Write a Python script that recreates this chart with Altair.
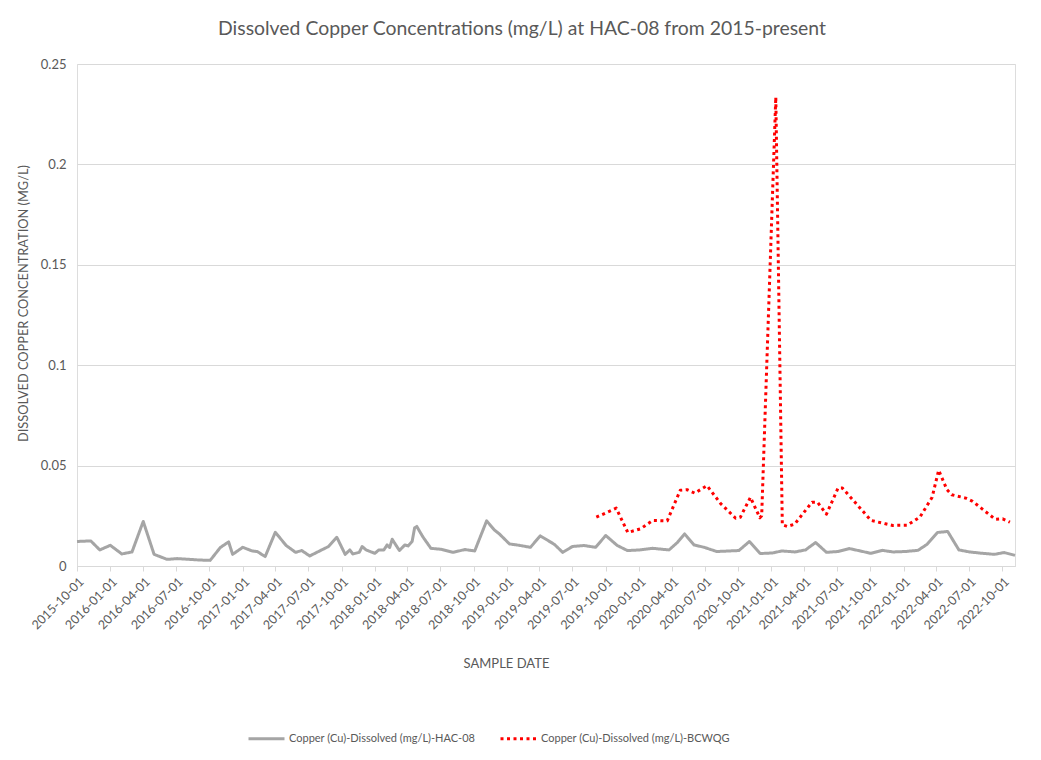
import altair as alt
import pandas as pd
from datetime import datetime, timezone

GRAY_NAME = "Copper (Cu)-Dissolved (mg/L)-HAC-08"
RED_NAME = "Copper (Cu)-Dissolved (mg/L)-BCWQG"

gray_dates = [
    "2015-10-01", "2015-11-08", "2015-12-03", "2016-01-01", "2016-02-02", "2016-03-01",
    "2016-04-01", "2016-05-01", "2016-06-06", "2016-07-04", "2016-09-01", "2016-10-03",
    "2016-10-31", "2016-11-23", "2016-12-04", "2017-01-01", "2017-01-27", "2017-02-10",
    "2017-03-04", "2017-04-01", "2017-05-01", "2017-05-27", "2017-06-13", "2017-07-05",
    "2017-08-26", "2017-09-18", "2017-10-11", "2017-10-24", "2017-11-01", "2017-11-19",
    "2017-11-27", "2017-12-08", "2018-01-01", "2018-01-12", "2018-01-26", "2018-02-04",
    "2018-02-11", "2018-02-18", "2018-03-10", "2018-03-25", "2018-04-03", "2018-04-14",
    "2018-04-21", "2018-04-27", "2018-05-13", "2018-06-05", "2018-07-04", "2018-08-05",
    "2018-09-07", "2018-10-04", "2018-11-06", "2018-11-27", "2018-12-11", "2019-01-08",
    "2019-02-04", "2019-03-07", "2019-04-03", "2019-05-12", "2019-06-04", "2019-07-01",
    "2019-08-02", "2019-09-03", "2019-10-01", "2019-11-02", "2019-11-30", "2020-01-03",
    "2020-02-08", "2020-03-24", "2020-04-16", "2020-05-06", "2020-06-01", "2020-06-29",
    "2020-08-03", "2020-10-03", "2020-11-01", "2020-12-01", "2021-01-04", "2021-01-30",
    "2021-03-07", "2021-04-05", "2021-05-03", "2021-06-02", "2021-07-03", "2021-08-04",
    "2021-10-03", "2021-11-03", "2021-12-03", "2022-01-05", "2022-02-10", "2022-03-07",
    "2022-04-05", "2022-05-03", "2022-06-03", "2022-07-02", "2022-08-08", "2022-09-09",
    "2022-10-06", "2022-11-05",
]
gray_values = [
    0.0122, 0.0125, 0.0080, 0.0103, 0.0060, 0.0070,
    0.0222, 0.0058, 0.0033, 0.0037, 0.0030, 0.0028,
    0.0092, 0.0120, 0.0058, 0.0093, 0.0075, 0.0072,
    0.0047, 0.0168, 0.0102, 0.0068, 0.0077, 0.0050,
    0.0097, 0.0143, 0.0058, 0.0080, 0.0060, 0.0068,
    0.0097, 0.0080, 0.0063, 0.0080, 0.0080, 0.0105,
    0.0092, 0.0133, 0.0077, 0.0105, 0.0100, 0.0122,
    0.0190, 0.0197, 0.0147, 0.0088, 0.0083, 0.0068,
    0.0082, 0.0075, 0.0225, 0.0180, 0.0160, 0.0110,
    0.0103, 0.0093, 0.0150, 0.0108, 0.0068, 0.0097,
    0.0102, 0.0093, 0.0152, 0.0102, 0.0077, 0.0080,
    0.0088, 0.0080, 0.0117, 0.0160, 0.0105, 0.0093,
    0.0072, 0.0077, 0.0122, 0.0062, 0.0065, 0.0075,
    0.0070, 0.0080, 0.0117, 0.0068, 0.0072, 0.0087,
    0.0063, 0.0078, 0.0070, 0.0072, 0.0078, 0.0108,
    0.0167, 0.0172, 0.0080, 0.0070, 0.0063, 0.0058,
    0.0067, 0.0053,
]

red_dates = [
    "2019-09-05", "2019-10-30", "2019-12-01", "2020-01-05", "2020-02-08", "2020-03-19",
    "2020-04-24", "2020-05-13", "2020-06-03", "2020-07-07", "2020-08-14", "2020-09-24",
    "2020-10-07", "2020-11-04", "2020-11-30", "2020-12-05", "2021-01-13", "2021-01-31",
    "2021-02-14", "2021-03-06", "2021-04-23", "2021-05-08", "2021-06-02", "2021-07-04",
    "2021-07-16", "2021-10-03", "2021-11-12", "2021-12-02", "2022-01-11", "2022-02-15",
    "2022-03-21", "2022-04-08", "2022-05-01", "2022-05-14", "2022-06-22", "2022-07-11",
    "2022-09-11", "2022-10-02", "2022-10-22",
]
red_values = [
    0.0243, 0.0288, 0.0167, 0.0185, 0.0227, 0.0225,
    0.0377, 0.0380, 0.0363, 0.0400, 0.0310, 0.0238,
    0.0243, 0.0342, 0.0240, 0.0250, 0.2335, 0.0205,
    0.0197, 0.0208, 0.0318, 0.0318, 0.0258, 0.0388,
    0.0388, 0.0227, 0.0210, 0.0202, 0.0203, 0.0243,
    0.0342, 0.0477, 0.0380, 0.0355, 0.0338, 0.0322,
    0.0233, 0.0235, 0.0218,
]

tick_dates = [f"{y}-{m:02d}-01" for y in range(2015, 2023) for m in (1, 4, 7, 10)]
tick_dates = [d for d in tick_dates if "2015-10-01" <= d <= "2022-10-01"]
y_ticks = [0, 0.05, 0.1, 0.15, 0.2, 0.25]


def ms(d):
    return int(datetime.strptime(d, "%Y-%m-%d").replace(tzinfo=timezone.utc).timestamp() * 1000)


df = pd.concat([
    pd.DataFrame({"date": [ms(d) for d in gray_dates], "value": gray_values, "series": GRAY_NAME}),
    pd.DataFrame({"date": [ms(d) for d in red_dates], "value": red_values, "series": RED_NAME}),
])

FONT = "Lato"
TXT = "#595959"
GRID = "#d9d9d9"

x_dom = [ms(gray_dates[0]), ms(gray_dates[-1])]

chart = alt.Chart(df).mark_line(strokeWidth=3, strokeJoin="round").encode(
    x=alt.X(
        "date:T",
        scale=alt.Scale(type="utc", domain=x_dom, nice=False),
        axis=alt.Axis(
            values=[ms(d) for d in tick_dates],
            labelExpr="utcFormat(datum.value, '%Y-%m-%d')",
            labelAngle=-45,
            labelFont=FONT,
            labelFontSize=12.5,
            labelColor=TXT,
            labelPadding=4,
            labelOverlap=False,
            labelFlush=False,
            grid=False,
            domainColor=GRID,
            tickColor=GRID,
            tickSize=5,
            title="SAMPLE DATE",
            titleFont=FONT,
            titleFontSize=13,
            titleFontWeight="normal",
            titleColor=TXT,
            titleX=429,
            titleY=97,
            titleAlign="center",
            titleBaseline="middle",
        ),
    ),
    y=alt.Y(
        "value:Q",
        scale=alt.Scale(domain=[0, 0.25], nice=False),
        axis=alt.Axis(
            values=y_ticks,
            format="~g",
            labelFont=FONT,
            labelFontSize=13,
            labelColor=TXT,
            labelPadding=11,
            domain=False,
            ticks=False,
            gridColor=GRID,
            gridWidth=1,
            title="DISSOLVED COPPER CONCENTRATION (MG/L)",
            titleFont=FONT,
            titleFontSize=12.8,
            titleFontWeight="normal",
            titleColor=TXT,
            titleX=-54,
            titleY=239,
            titleAngle=-90,
            titleAlign="center",
            titleBaseline="middle",
        ),
    ),
    color=alt.Color(
        "series:N",
        scale=alt.Scale(domain=[GRAY_NAME, RED_NAME], range=["#a5a5a5", "#ff0000"]),
        legend=alt.Legend(
            title=None,
            orient="none",
            direction="horizontal",
            legendX=170,
            legendY=655,
            symbolType="stroke",
            symbolSize=1296,
            symbolStrokeWidth=3,
            labelFont=FONT,
            labelFontSize=11,
            labelColor=TXT,
            labelOffset=3,
            columnPadding=18,
            labelLimit=400,
        ),
    ),
    strokeDash=alt.StrokeDash(
        "series:N",
        scale=alt.Scale(domain=[GRAY_NAME, RED_NAME], range=[[1, 0], [3, 3.5]]),
        legend=None,
    ),
).properties(
    width=938,
    height=502,
    title=alt.TitleParams(
        "Dissolved Copper Concentrations (mg/L) at HAC-08 from 2015-present",
        font=FONT,
        fontSize=19.4,
        fontWeight="normal",
        color=TXT,
        anchor="middle",
        dx=-24,
        offset=19,
    ),
    padding={"left": 69, "top": 56, "right": 18, "bottom": 186},
    autosize=alt.AutoSizeParams(type="none"),
).configure_view(stroke=None).configure(background="white")

chart.save("out.html", embed_options={"renderer": "svg", "actions": False})
